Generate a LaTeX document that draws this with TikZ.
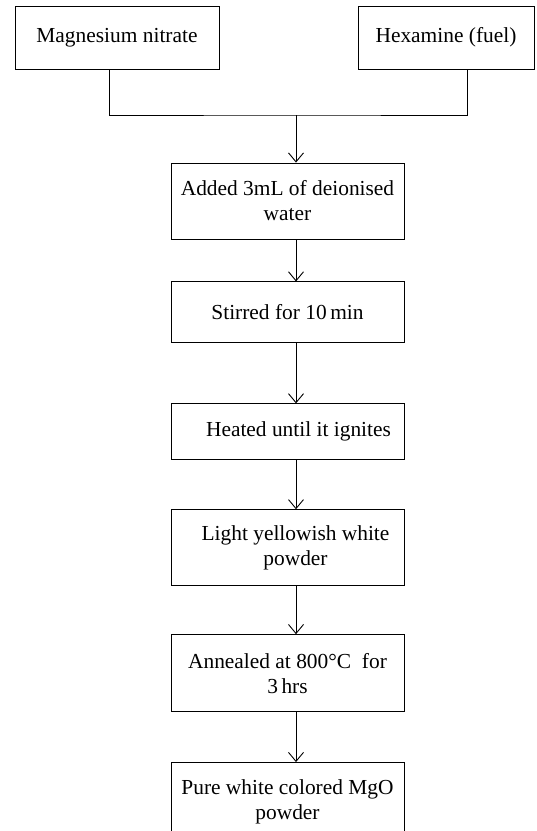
\documentclass[tikz,border=0pt]{standalone}
\usepackage{fontspec}
\setmainfont{Liberation Serif}
\usetikzlibrary{arrows.meta,positioning}
\tikzset{
  blk/.style={draw,rectangle,line width=0.9pt,minimum width=233pt,align=center,inner sep=2pt,
    font=\fontsize{21.4}{25}\selectfont},
  srcblk/.style={blk,minimum height=63pt},
  arr/.style={-{Straight Barb[length=9pt,width=15pt]},line width=0.9pt},
  lnk/.style={line width=0.9pt}
}
\begin{document}
\begin{tikzpicture}[x=1pt,y=-1pt]
  \useasboundingbox (0,0) rectangle (537,831);
  \node[srcblk, minimum width=204pt] (mgn) at (117,37.5) {Magnesium nitrate};
  \node[srcblk, minimum width=176pt] (hex) at (446,37.5) {Hexamine (fuel)};
  \coordinate (join) at (296,115);

  \node[blk, minimum height=76pt] (add) at (287.5,201) {Added 3mL of deionised\\water};
  \node[blk, minimum height=61pt, below=42pt of add] (stir) {Stirred for 10\,min};
  \node[blk, minimum height=56pt, below=60pt of stir] (heat) {\hspace*{22pt}Heated until it ignites};
  \node[blk, minimum height=76pt, below=49pt of heat, yshift=0pt] (light) {\hspace*{16pt}Light yellowish white\\\hspace*{16pt}powder};
  \node[blk, minimum height=77pt, below=48pt of light] (ann) {Annealed at 800°C\ \ for\\3\,hrs};
  \node[blk, minimum height=78pt, below=50pt of ann] (pure) {Pure white colored MgO\\powder};

  \draw[lnk] ([xshift=-8pt]mgn.south) |- (join) -| ([xshift=21pt]hex.south);
  \draw[arr] (join) -- (join |- add.north);
  \draw[arr] ([xshift=8.5pt]add.south) -- ([xshift=8.5pt]stir.north);
  \draw[arr] ([xshift=8.5pt]stir.south) -- ([xshift=8.5pt]heat.north);
  \draw[arr] ([xshift=8.5pt]heat.south) -- ([xshift=8.5pt]light.north);
  \draw[arr] ([xshift=8.5pt]light.south) -- ([xshift=8.5pt]ann.north);
  \draw[arr] ([xshift=8.5pt]ann.south) -- ([xshift=8.5pt]pure.north);
\end{tikzpicture}
\end{document}
